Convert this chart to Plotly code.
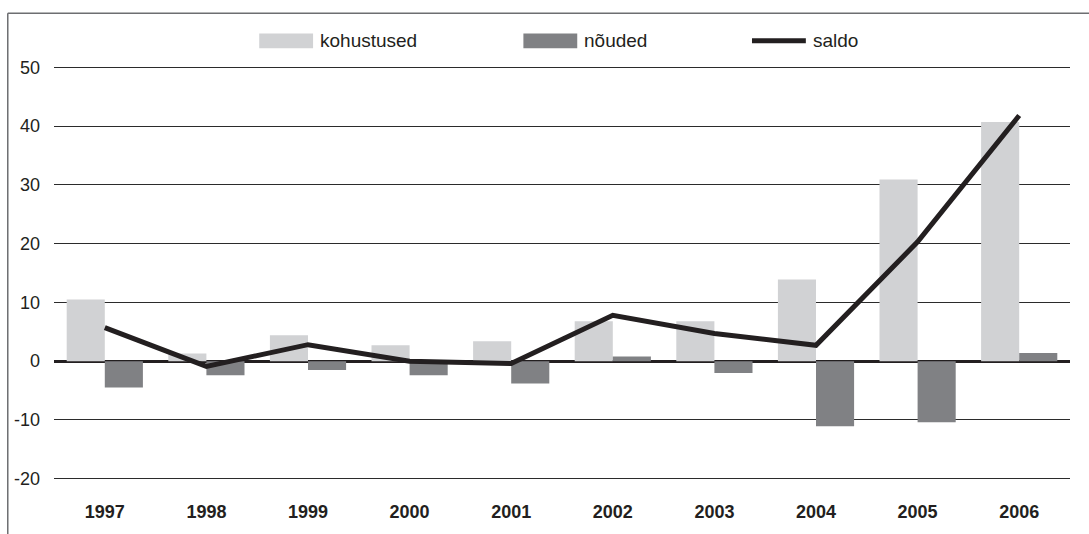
import plotly.graph_objects as go

# andmed (loetud jooniselt)
aastad = ["1997", "1998", "1999", "2000", "2001", "2002", "2003", "2004", "2005", "2006"]
kohustused = [10.5, 1.3, 4.4, 2.7, 3.4, 6.8, 6.8, 13.9, 30.9, 40.7]
nouded = [-4.5, -2.4, -1.5, -2.4, -3.8, 0.8, -2.0, -11.1, -10.4, 1.4]
saldo = [5.7, -0.9, 2.8, 0.0, -0.4, 7.8, 4.7, 2.7, 20.3, 41.8]
y_ticks = [-20, -10, 0, 10, 20, 30, 40, 50]
y_ticktext = ["-20", "-10", "0", "10", "20", "30", "40", "50"]

LIGHT = "#d1d2d4"
DARK = "#808184"
BLACK = "#231f20"
FONT = "Liberation Sans, Arial, sans-serif"

fig = go.Figure()

fig.add_trace(go.Bar(x=aastad, y=kohustused, name="kohustused", marker=dict(color=LIGHT, line=dict(width=0))))
fig.add_trace(go.Bar(x=aastad, y=nouded, name="nõuded", marker=dict(color=DARK, line=dict(width=0))))
fig.add_trace(go.Scatter(x=aastad, y=saldo, name="saldo", mode="lines",
                         line=dict(color=BLACK, width=5)))

# käsitsi tehtud legend (laiad värviribad nagu originaalis)
legend_items = [
    ("kohustused", "rect", LIGHT, 0.202),
    ("nõuded", "rect", DARK, 0.462),
    ("saldo", "line", BLACK, 0.687),
]
for label, kind, color, x0 in legend_items:
    x1 = x0 + 0.053
    if kind == "rect":
        fig.add_shape(type="rect", xref="paper", yref="paper", x0=x0, x1=x1, y0=1.040, y1=1.076,
                      fillcolor=color, line=dict(width=0))
    else:
        fig.add_shape(type="line", xref="paper", yref="paper", x0=x0, x1=x1, y0=1.058, y1=1.058,
                      line=dict(color=color, width=5))
    fig.add_annotation(text=label, xref="paper", yref="paper", x=x1 + 0.005, y=1.060,
                       xanchor="left", yanchor="middle", showarrow=False,
                       font=dict(family=FONT, size=19, color=BLACK))

# raam vasakul ja üleval
fig.add_shape(type="line", xref="paper", yref="paper", x0=-0.0455, x1=-0.0455, y0=1.1245, y1=-0.15,
              line=dict(color="#6d6e71", width=1.5))
fig.add_shape(type="line", xref="paper", yref="paper", x0=-0.0455, x1=1.03, y0=1.1245, y1=1.1245,
              line=dict(color="#6d6e71", width=1.5))

fig.update_layout(
    width=1089, height=534,
    margin=dict(l=54, r=19, t=65, b=49),
    plot_bgcolor="white", paper_bgcolor="white",
    barmode="group", bargap=0.25, bargroupgap=0,
    showlegend=False,
    font=dict(family=FONT, size=18, color=BLACK),
)
fig.update_xaxes(
    type="category", showgrid=False, showline=False, ticks="",
    tickfont=dict(family=FONT, size=18, color=BLACK, weight="bold"),
    ticklabelstandoff=18,
)
fig.update_yaxes(
    range=[-20.4, 50.4], tickvals=y_ticks, ticktext=y_ticktext,
    showgrid=True, gridcolor="#2b2b2b", gridwidth=1,
    zeroline=True, zerolinecolor=BLACK, zerolinewidth=2.5, showline=False, ticks="",
    tickfont=dict(family=FONT, size=18, color=BLACK), ticklabelstandoff=13,
)

# lehe vaikimisi 8px veeris ära, et joonis täidaks akna täpselt
fig.write_html("out.html", config={"displayModeBar": False},
               post_script="document.body.style.margin='0';")
